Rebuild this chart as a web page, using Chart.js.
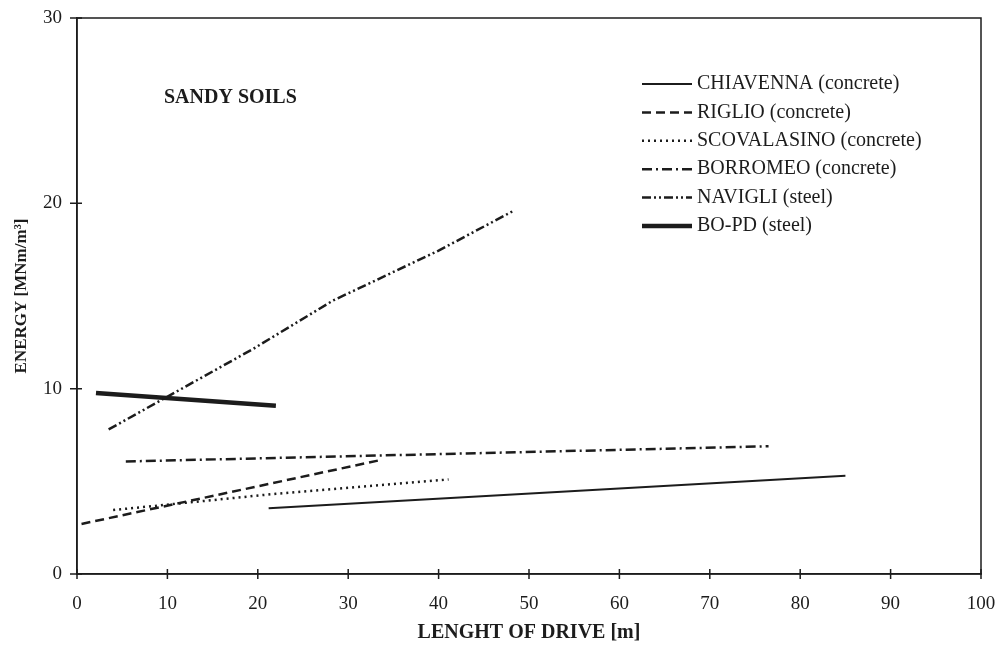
<!DOCTYPE html>
<html>
<head>
<meta charset="utf-8">
<script src="https://cdn.jsdelivr.net/npm/chart.js@4/dist/chart.umd.min.js"></script>
<style>
  html, body { margin: 0; padding: 0; background: #fff; }
  #wrap { width: 997px; height: 647px; }
</style>
</head>
<body>
<div id="wrap"><canvas id="chart" width="997" height="647"></canvas></div>
<script>
// series names
const seriesNames = [
    'CHIAVENNA (concrete)',
    'RIGLIO (concrete)',
    'SCOVALASINO (concrete)',
    'BORROMEO (concrete)',
    'NAVIGLI (steel)',
    'BO-PD (steel)'
];

// length of drive [m] / energy [MNm/m3]
const chiavennaX = [21.2, 85];
const chiavennaY = [3.55, 5.3];
const riglioX = [0.5, 33.6];
const riglioY = [2.7, 6.15];
const scovalasinoX = [4, 22, 41.1];
const scovalasinoY = [3.45, 4.33, 5.1];
const borromeoX = [5.4, 76.5];
const borromeoY = [6.07, 6.89];
const navigliX = [3.5, 19.5, 28.3, 40, 48.3];
const navigliY = [7.8, 12.15, 14.75, 17.45, 19.6];
const bopdX = [2.1, 22];
const bopdY = [9.77, 9.08];

const xTicks = [0, 10, 20, 30, 40, 50, 60, 70, 80, 90, 100];
const yTicks = [0, 10, 20, 30];

const toPoints = (xs, ys) => xs.map((x, i) => ({ x: x, y: ys[i] }));

const ink = '#1c1c1c';
const serif = '"Liberation Serif", "Times New Roman", serif';

function series(name, xs, ys, dash, width) {
    return {
        label: name,
        data: toPoints(xs, ys),
        borderColor: ink,
        borderWidth: width,
        borderDash: dash,
        pointRadius: 0,
        showLine: true,
        fill: false,
        tension: 0
    };
}

// frame, crossing tick marks, note and legend inside the plot
const decorations = {
    id: 'decorations',
    afterDraw(chart) {
        const ctx = chart.ctx;
        const area = chart.chartArea;
        const xs = chart.scales.x, ys = chart.scales.y;
        ctx.save();
        ctx.strokeStyle = ink;
        ctx.lineWidth = 1.5;
        ctx.setLineDash([]);
        ctx.strokeRect(area.left, area.top, area.right - area.left, area.bottom - area.top);
        ctx.beginPath();
        xTicks.forEach(v => {
            const px = xs.getPixelForValue(v);
            ctx.moveTo(px, area.bottom - 5);
            ctx.lineTo(px, area.bottom + 5);
        });
        yTicks.forEach(v => {
            const py = ys.getPixelForValue(v);
            ctx.moveTo(area.left - 7, py);
            ctx.lineTo(area.left + 5, py);
        });
        ctx.stroke();

        ctx.fillStyle = ink;
        ctx.font = 'bold 20px ' + serif;
        ctx.textBaseline = 'middle';
        ctx.textAlign = 'left';
        ctx.fillText('SANDY SOILS', 164, 98);

        ctx.font = '20px ' + serif;
        chart.data.datasets.forEach((ds, i) => {
            const y = 84 + i * 28.4;
            ctx.beginPath();
            ctx.lineWidth = ds.borderWidth;
            ctx.setLineDash(ds.borderDash || []);
            ctx.moveTo(642, y);
            ctx.lineTo(692, y);
            ctx.stroke();
            ctx.setLineDash([]);
            ctx.fillText(ds.label, 697, y);
        });
        ctx.restore();
    }
};

new Chart(document.getElementById('chart'), {
    type: 'scatter',
    data: {
        datasets: [
            series(seriesNames[0], chiavennaX, chiavennaY, [], 2),
            series(seriesNames[1], riglioX, riglioY, [9, 5], 2.5),
            series(seriesNames[2], scovalasinoX, scovalasinoY, [2, 4], 2.5),
            series(seriesNames[3], borromeoX, borromeoY, [10, 4, 2, 4], 2.5),
            series(seriesNames[4], navigliX, navigliY, [9, 3, 2, 3, 2, 3], 2.5),
            series(seriesNames[5], bopdX, bopdY, [], 4.5)
        ]
    },
    options: {
        responsive: false,
        animation: false,
        layout: { padding: { top: 18, right: 16, left: 0, bottom: 0 } },
        plugins: {
            legend: { display: false },
            tooltip: { enabled: false }
        },
        scales: {
            x: {
                type: 'linear',
                min: 0,
                max: 100,
                afterFit(scale) {
                    scale.height = 73;
                    scale.paddingLeft = 0;
                    scale.paddingRight = 0;
                },
                afterBuildTicks(scale) { scale.ticks = xTicks.map(v => ({ value: v })); },
                grid: { display: false, drawTicks: false },
                border: { display: true, color: ink, width: 1.5 },
                ticks: {
                    color: ink,
                    padding: 19,
                    maxRotation: 0,
                    font: { family: serif, size: 19 }
                },
                title: {
                    display: true,
                    text: 'LENGHT OF DRIVE [m]',
                    color: ink,
                    padding: { top: 0, bottom: 2 },
                    font: { family: serif, size: 20, weight: 'bold' }
                }
            },
            y: {
                type: 'linear',
                min: 0,
                max: 30,
                afterFit(scale) {
                    scale.width = 77;
                    scale.paddingTop = 0;
                    scale.paddingBottom = 0;
                },
                afterBuildTicks(scale) { scale.ticks = yTicks.map(v => ({ value: v })); },
                grid: { display: false, drawTicks: false },
                border: { display: true, color: ink, width: 1.5 },
                ticks: {
                    color: ink,
                    padding: 15,
                    font: { family: serif, size: 19 }
                },
                title: {
                    display: true,
                    text: 'ENERGY [MNm/m³]',
                    color: ink,
                    padding: { top: 11, bottom: 0 },
                    font: { family: serif, size: 17, weight: 'bold' }
                }
            }
        }
    },
    plugins: [decorations]
});
</script>
</body>
</html>
